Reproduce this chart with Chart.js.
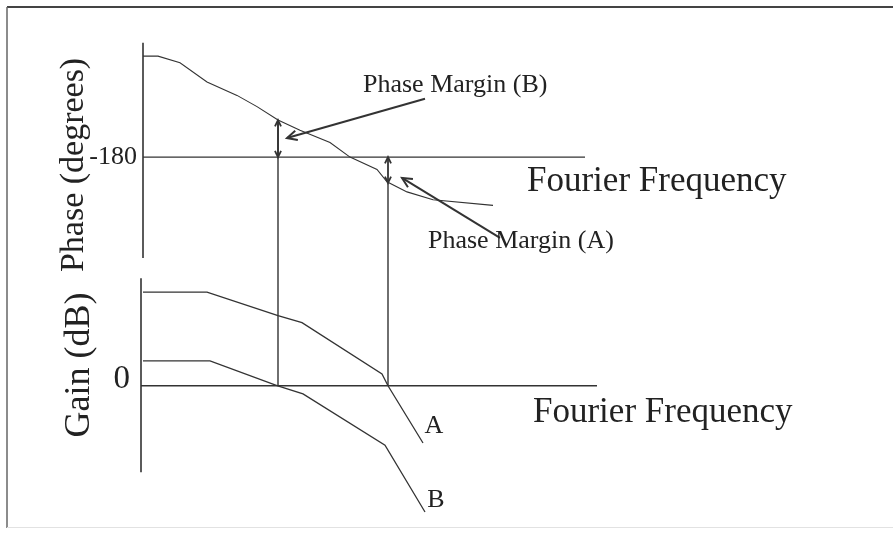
<!DOCTYPE html>
<html>
<head>
<meta charset="utf-8">
<script src="https://cdn.jsdelivr.net/npm/chart.js@4.4.0/dist/chart.umd.min.js"></script>
<style>
  html, body { margin: 0; padding: 0; background: #fff; }
  #wrap { width: 893px; height: 533px; }
</style>
</head>
<body>
<div id="wrap"><canvas id="chart"></canvas></div>
<script>
// Frecuencia en unidades arbitrarias, fase en grados, ganancia en dB
var phaseFreq = [0, 3, 7.4, 12.8, 18.8, 22.8, 27, 31.4, 37.4, 41.4, 46.8, 48.8, 52.8, 58, 70];
var phaseDeg  = [-90, -90, -96, -113, -125, -135, -147, -156, -167, -180, -191, -202, -211, -218, -223];

var gainFreqA = [0, 12.8, 27, 31.8, 47.8, 49, 56];
var gainDbA   = [40, 40, 30, 27, 5, 0, -24.5];
var gainFreqB = [0, 13.4, 26.8, 32, 48.4, 56.4];
var gainDbB   = [10.6, 10.6, 0, -3.5, -25.4, -54];

// cruce por 0 dB de cada curva y fase en ese punto
var crossNames = ["B", "A"];
var crossFreq  = [27, 49];
var crossPhase = [-147, -203];

var phaseTicks = [-180];
var gainTicks  = [0];
var phaseAxisRange = [-78, -270];
var gainAxisRange  = [46, -37];
var phaseLineEnd = 88.4;
var gainLineEnd  = 90.8;

var INK = "#333";
var SERIF = '"Liberation Serif", "DejaVu Serif", serif';

function pts(xs, ys) {
  return xs.map(function(x, i) { return { x: x, y: ys[i] }; });
}

function line(data, axis, width) {
  return {
    data: data,
    yAxisID: axis,
    borderColor: INK,
    borderWidth: width,
    pointRadius: 0,
    tension: 0,
    fill: false
  };
}

var datasets = [
  // ejes
  line(pts([0, 0], phaseAxisRange), "yPhase", 1.6),
  line(pts([0, phaseLineEnd], [phaseTicks[0], phaseTicks[0]]), "yPhase", 1.4),
  line(pts([-0.4, -0.4], gainAxisRange), "yGain", 1.6),
  line(pts([-0.4, gainLineEnd], [gainTicks[0], gainTicks[0]]), "yGain", 1.4),
  // curvas
  line(pts(phaseFreq, phaseDeg), "yPhase", 1.1),
  line(pts(gainFreqA, gainDbA), "yGain", 1.3),
  line(pts(gainFreqB, gainDbB), "yGain", 1.3)
];

function arrowHead(ctx, x0, y0, x1, y1, size) {
  var a = Math.atan2(y1 - y0, x1 - x0);
  ctx.beginPath();
  ctx.moveTo(x1 - size * Math.cos(a - 0.45), y1 - size * Math.sin(a - 0.45));
  ctx.lineTo(x1, y1);
  ctx.lineTo(x1 - size * Math.cos(a + 0.45), y1 - size * Math.sin(a + 0.45));
  ctx.stroke();
}

function arrow(ctx, x0, y0, x1, y1, size, both) {
  ctx.beginPath();
  ctx.moveTo(x0, y0);
  ctx.lineTo(x1, y1);
  ctx.stroke();
  arrowHead(ctx, x0, y0, x1, y1, size);
  if (both) arrowHead(ctx, x1, y1, x0, y0, size);
}

var notes = {
  id: "notes",
  beforeDraw: function(chart) {
    var ctx = chart.ctx;
    ctx.save();
    ctx.fillStyle = "#fff";
    ctx.fillRect(0, 0, chart.width, chart.height);
    ctx.strokeStyle = "#444";
    ctx.lineWidth = 2;
    ctx.beginPath(); ctx.moveTo(7, 7); ctx.lineTo(chart.width, 7); ctx.stroke();
    ctx.strokeStyle = "#666";
    ctx.lineWidth = 1.5;
    ctx.beginPath(); ctx.moveTo(7, 7); ctx.lineTo(7, 528); ctx.stroke();
    ctx.strokeStyle = "#e2e2e2";
    ctx.lineWidth = 1;
    ctx.beginPath(); ctx.moveTo(7, 527.5); ctx.lineTo(chart.width, 527.5); ctx.stroke();
    ctx.restore();
  },
  afterDatasetsDraw: function(chart) {
    var ctx = chart.ctx;
    var x = chart.scales.x, yp = chart.scales.yPhase, yg = chart.scales.yGain;
    ctx.save();
    ctx.strokeStyle = INK;
    ctx.fillStyle = "#222";

    // lineas de cruce y margenes de fase
    crossFreq.forEach(function(f, i) {
      var px = x.getPixelForValue(f);
      ctx.lineWidth = 1.4;
      ctx.beginPath();
      ctx.moveTo(px, yp.getPixelForValue(crossPhase[i]));
      ctx.lineTo(px, yg.getPixelForValue(0));
      ctx.stroke();
      ctx.lineWidth = 1.8;
      arrow(ctx, px, yp.getPixelForValue(crossPhase[i]), px, yp.getPixelForValue(-180), 7, true);
    });

    // flechas de las etiquetas
    ctx.lineWidth = 2;
    arrow(ctx, x.getPixelForValue(56.4), yp.getPixelForValue(-128),
               x.getPixelForValue(28.8), yp.getPixelForValue(-163), 11, false);
    arrow(ctx, x.getPixelForValue(71.4), yp.getPixelForValue(-252),
               x.getPixelForValue(51.8), yp.getPixelForValue(-198.6), 11, false);

    function text(str, fx, py, size, align) {
      ctx.font = size + "px " + SERIF;
      ctx.textAlign = align;
      ctx.textBaseline = "middle";
      ctx.fillText(str, x.getPixelForValue(fx), py);
    }

    text("Phase Margin (" + crossNames[0] + ")", 44, yp.getPixelForValue(-115.7), 26, "left");
    text("Phase Margin (" + crossNames[1] + ")", 57, yp.getPixelForValue(-254.8), 26, "left");
    text("Fourier Frequency", 76.8, yp.getPixelForValue(-202.2), 35, "left");
    text("Fourier Frequency", 78, yg.getPixelForValue(-11.7), 35, "left");
    text("A", 58.2, yg.getPixelForValue(-17.2), 26, "center");
    text("B", 58.6, yg.getPixelForValue(-48.9), 26, "center");

    // etiquetas de los ejes
    text(String(phaseTicks[0]), -1.2, yp.getPixelForValue(phaseTicks[0]), 26, "right");
    text(String(gainTicks[0]), -2.6, yg.getPixelForValue(gainTicks[0]) - 6, 33, "right");

    function vtext(str, fx, py, size) {
      ctx.save();
      ctx.translate(x.getPixelForValue(fx), py);
      ctx.rotate(-Math.PI / 2);
      ctx.font = size + "px " + SERIF;
      ctx.textAlign = "center";
      ctx.textBaseline = "middle";
      ctx.fillText(str, 0, 0);
      ctx.restore();
    }
    vtext("Phase (degrees)", -13.8, yp.getPixelForValue(-187), 34);
    vtext("Gain (dB)", -12.6, yg.getPixelForValue(8.9), 36);

    ctx.restore();
  }
};

var chart = new Chart("chart", {
  type: "line",
  data: { datasets: datasets },
  options: {
    responsive: true,
    maintainAspectRatio: false,
    animation: false,
    layout: { padding: { left: 133, right: 0, top: 0, bottom: 0 } },
    plugins: { legend: { display: false }, tooltip: { enabled: false } },
    scales: {
      x: { type: "linear", min: -2, max: 150, display: false },
      yPhase: { type: "linear", min: -515, max: -40, display: false },
      yGain: { type: "linear", min: -63, max: 165, display: false }
    }
  },
  plugins: [notes]
});
</script>
</body>
</html>
